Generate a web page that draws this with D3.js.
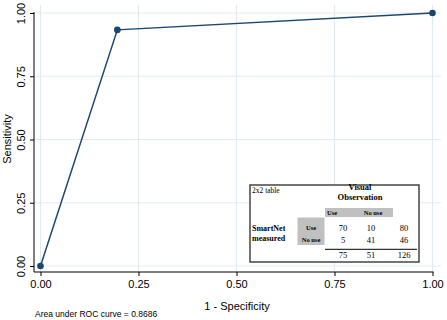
<!DOCTYPE html>
<html><head><meta charset="utf-8">
<script src="https://cdn.jsdelivr.net/npm/d3@7"></script>
<style>body{margin:0;background:#fff}svg{display:block}</style>
</head><body>
<svg id="c" width="447" height="320"></svg>
<script>
const fpr = [0, 0.196, 1];
const tpr = [0, 0.9333, 1];
const ticks = [0, 0.25, 0.5, 0.75, 1];
const tickLabels = ["0.00", "0.25", "0.50", "0.75", "1.00"];
const colHeads = ["Use", "No use"];
const rowHeads = ["Use", "No use"];
const cells = [[70, 10, 80], [5, 41, 46]];
const totals = [75, 51, 126];
const aucText = "Area under ROC curve = 0.8686";

const svg = d3.select("#c");
const x = d3.scaleLinear().domain([0, 1]).range([40.5, 432.5]);
const y = d3.scaleLinear().domain([0, 1]).range([266, 13]);
const sans = "Liberation Sans, Arial, sans-serif";
const serif = "Liberation Serif, Times New Roman, serif";
const axX = 34, axY = 272;

// grid
svg.append("g").selectAll("line").data(ticks).join("line")
  .attr("x1", d => x(d)).attr("x2", d => x(d)).attr("y1", 5).attr("y2", axY)
  .attr("stroke", "#e1ebef").attr("stroke-width", 1.2);
svg.append("g").selectAll("line").data(ticks).join("line")
  .attr("x1", axX).attr("x2", 441).attr("y1", d => y(d)).attr("y2", d => y(d))
  .attr("stroke", "#e1ebef").attr("stroke-width", 1.2);

// axes
const xAxis = d3.axisBottom(x).tickValues(ticks).tickFormat((d, i) => tickLabels[i]).tickSize(4).tickPadding(4);
const gx = svg.append("g").attr("transform", `translate(0,${axY})`).call(xAxis);
gx.select(".domain").attr("d", `M${axX},0H${x(1)+1}`).attr("stroke", "#000");
gx.selectAll("text").attr("font-family", sans).attr("font-size", 11).attr("fill", "#000");

const yAxis = d3.axisLeft(y).tickValues(ticks).tickFormat((d, i) => tickLabels[i]).tickSize(4).tickPadding(4);
const gy = svg.append("g").attr("transform", `translate(${axX},0)`).call(yAxis);
gy.select(".domain").attr("d", `M0,${y(1)-1}V${axY}`).attr("stroke", "#000");
gy.selectAll("text").attr("font-family", sans).attr("font-size", 11).attr("fill", "#000")
  .attr("x", -13).attr("y", 0).attr("dy", "0.35em").attr("text-anchor", "middle")
  .attr("transform", "rotate(-90,-13,0)");

svg.append("text").attr("x", 237).attr("y", 310).attr("text-anchor", "middle")
  .attr("font-family", sans).attr("font-size", 11).text("1 - Specificity");
svg.append("text").attr("transform", `translate(11,139) rotate(-90)`).attr("text-anchor", "middle")
  .attr("font-family", sans).attr("font-size", 11).text("Sensitivity");
svg.append("text").attr("x", 35).attr("y", 317).attr("font-family", sans).attr("font-size", 8.5).text(aucText);

// line
const pts = fpr.map((d, i) => [d, tpr[i]]);
svg.append("path").datum(pts).attr("fill", "none").attr("stroke", "#1a476f").attr("stroke-width", 1.5)
  .attr("d", d3.line().x(d => x(d[0])).y(d => y(d[1])));
svg.append("g").selectAll("circle").data(pts).join("circle")
  .attr("cx", d => x(d[0])).attr("cy", d => y(d[1])).attr("r", 3.3).attr("fill", "#1a476f");

// table
const t = svg.append("g");
t.append("rect").attr("x", 250).attr("y", 185).attr("width", 169).attr("height", 77)
  .attr("fill", "#fff").attr("stroke", "#444").attr("stroke-width", 1.5);
t.append("rect").attr("x", 325).attr("y", 208).attr("width", 68).attr("height", 9).attr("fill", "#c0c0c0");
t.append("rect").attr("x", 297.5).attr("y", 217.5).attr("width", 27).attr("height", 27.5).attr("fill", "#c0c0c0");
t.append("line").attr("x1", 325).attr("x2", 417).attr("y1", 249.3).attr("y2", 249.3).attr("stroke", "#000").attr("stroke-width", 1);
const tt = (x0, y0, s, opt = {}) => t.append("text").attr("x", x0).attr("y", y0)
  .attr("font-family", serif).attr("font-size", opt.size || 7.5).attr("font-weight", opt.bold ? "bold" : "normal")
  .attr("text-anchor", opt.anchor || "middle").attr("dy", "0.35em").text(s);
tt(252, 190, "2x2 table", {anchor: "start"});
tt(360, 187, "Visual", {bold: true, size: 8.5});
tt(360, 197.5, "Observation", {bold: true, size: 8.5});
const colX = [343, 371, 404];
const headX = [332, 373];
colHeads.forEach((h, i) => tt(headX[i], 212.5, h, {bold: true, size: 6.5}));
rowHeads.forEach((h, i) => tt(311, [227.7, 239.5][i], h, {bold: true, size: 6.5}));
tt(252, 227.7, "SmartNet", {anchor: "start", bold: true, size: 8});
tt(252, 238.3, "measured", {anchor: "start", bold: true, size: 8});
cells.forEach((row, r) => row.forEach((v, c) => tt(colX[c], [227.7, 240][r], v, {size: 8.5})));
totals.forEach((v, c) => tt(colX[c], 254.7, v, {size: 8.5}));
</script>
</body></html>
